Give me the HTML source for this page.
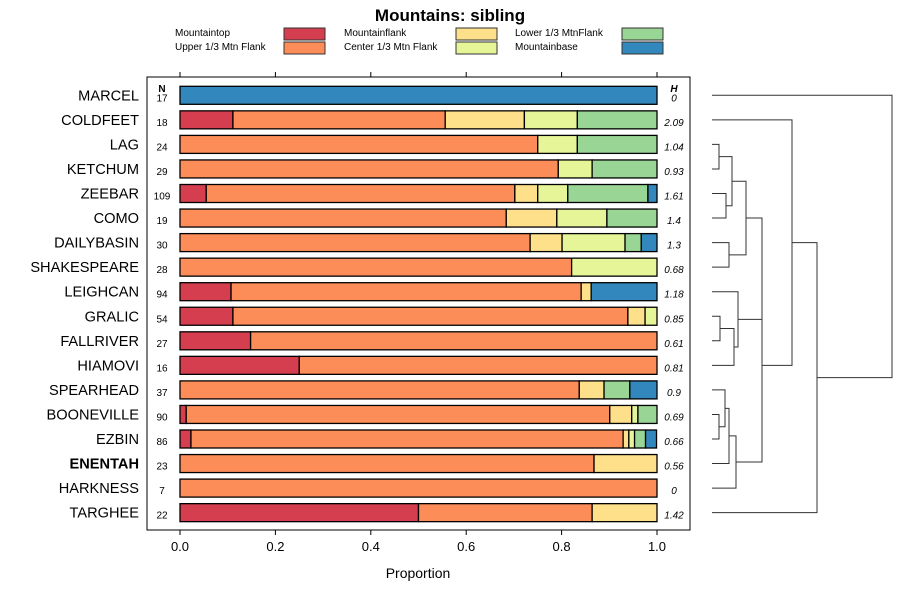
<!DOCTYPE html>
<html><head><meta charset="utf-8"><style>
body{margin:0;background:#fff;font-family:"Liberation Sans",sans-serif}
svg{display:block}
</style></head><body>
<svg id="chart" width="900" height="600" xmlns="http://www.w3.org/2000/svg">
<text x="450" y="21" text-anchor="middle" font-size="17" font-weight="bold">Mountains: sibling</text>
<g id="legend"></g>
<rect x="147" y="77" width="543" height="453" fill="none" stroke="#000" stroke-width="1"/>
<g id="bars"></g>
<g id="axis"></g>
<g id="dendro"></g>
<text x="418" y="578" text-anchor="middle" font-size="14">Proportion</text>
<text x="162" y="92" text-anchor="middle" font-size="10" font-weight="bold">N</text>
<text x="674" y="92" text-anchor="middle" font-size="10" font-weight="bold" font-style="italic">H</text>
</svg>
<script>
const categories=["MARCEL","COLDFEET","LAG","KETCHUM","ZEEBAR","COMO","DAILYBASIN","SHAKESPEARE","LEIGHCAN","GRALIC","FALLRIVER","HIAMOVI","SPEARHEAD","BOONEVILLE","EZBIN","ENENTAH","HARKNESS","TARGHEE"];
const seriesNames=["Mountaintop","Upper 1/3 Mtn Flank","Mountainflank","Center 1/3 Mtn Flank","Lower 1/3 MtnFlank","Mountainbase"];
const mountaintop=[0,.111,0,0,.055,0,0,0,.107,.111,.148,.25,0,.013,.023,0,0,.5];
const upperFlank=[0,.445,.75,.793,.647,.684,.734,.821,.734,.828,.852,.75,.837,.888,.906,.868,1,.364];
const mountainflank=[0,.166,0,0,.048,.106,.067,0,.021,.036,0,0,.052,.046,.012,.132,0,.136];
const centerFlank=[0,.111,.083,.071,.063,.105,.132,.179,0,.025,0,0,0,.013,.012,0,0,0];
const lowerFlank=[0,.167,.167,.136,.168,.105,.034,0,0,0,0,0,.054,.04,.023,0,0,0];
const mountainbase=[1,0,0,0,.019,0,.033,0,.138,0,0,0,.057,0,.023,0,0,0];
const nValues=[17,18,24,29,109,19,30,28,94,54,27,16,37,90,86,23,7,22];
const hValues=["0","2.09","1.04","0.93","1.61","1.4","1.3","0.68","1.18","0.85","0.61","0.81","0.9","0.69","0.66","0.56","0","1.42"];
const xTicks=[0,0.2,0.4,0.6,0.8,1.0];
const tickLabels=["0.0","0.2","0.4","0.6","0.8","1.0"];
const colors=["#D53E4F","#FC8D59","#FEE08B","#E6F598","#99D594","#3288BD"];
const NS="http://www.w3.org/2000/svg";
const xs=v=>180+v*477;
const ys=i=>95.3+i*24.55;
function mk(t,a,p){const e=document.createElementNS(NS,t);for(const k in a)e.setAttribute(k,a[k]);p.appendChild(e);return e;}
const series=[mountaintop,upperFlank,mountainflank,centerFlank,lowerFlank,mountainbase];
const bars=document.getElementById('bars');
categories.forEach((c,i)=>{
  const y=ys(i);
  const lab=mk('text',{x:139,y:y+5,'text-anchor':'end','font-size':14.6,'font-weight':c==="ENENTAH"?'bold':'normal'},bars);
  lab.textContent=c;
  
  
  let cum=0;
  series.forEach((s,k)=>{
    const v=s[i];if(v<=0)return;
    const r=mk('rect',{x:xs(cum),y:y-9,width:xs(cum+v)-xs(cum),height:18,fill:colors[k],stroke:'#000','stroke-width':1.3},bars);
    
    
    cum+=v;
  });
  const n=mk('text',{x:162,y:y+6,'text-anchor':'middle','font-size':10},bars);
  n.textContent=nValues[i];
  
  
  const h=mk('text',{x:674,y:y+6,'text-anchor':'middle','font-size':10,'font-style':'italic'},bars);
  h.textContent=hValues[i];
  
  
});
const ax=document.getElementById('axis');
xTicks.forEach((t,i)=>{
  const x=xs(t);
  mk('line',{x1:x,x2:x,y1:530,y2:535,stroke:'#000'},ax);
  mk('line',{x1:x,x2:x,y1:72,y2:77,stroke:'#000'},ax);
  const tl=mk('text',{x:x,y:551,'text-anchor':'middle','font-size':13},ax);
  tl.textContent=tickLabels[i];
  
  
});
const lg=document.getElementById('legend');
const lgPos=[[175,28,284],[175,42,284],[344,28,456],[344,42,456],[515,28,622],[515,42,622]];
[0,1,2,3,4,5].forEach(k=>{
  const p=lgPos[k];
  const t=mk('text',{x:p[0],y:p[1]+8,'font-size':10},lg);
  t.textContent=seriesNames[k];
  
  
  const r=mk('rect',{x:p[2],y:p[1],width:41,height:12,fill:colors[k],stroke:'#333'},lg);
  
  
});
const merges=[[2,3,719],[4,5,726],["n0","n1",732],[6,7,729],["n2","n3",746],[9,10,720],["n5",11,734],[8,"n6",738],[13,14,719],[12,"n8",725],["n9",15,729],["n10",16,736],["n4","n7",762],["n12","n11",762],[1,"n13",792],["n14",17,817],[0,"n15",892]];
const dg=document.getElementById('dendro');
const nodes=[];
function pos(c){if(typeof c==="number")return{x:712,y:ys(c)};return nodes[+c.slice(1)];}
merges.forEach(m=>{
  const a=pos(m[0]),b=pos(m[1]),x=m[2];
  const p=mk('path',{d:`M${a.x},${a.y}H${x}V${b.y}H${b.x}`,fill:'none',stroke:'#333','stroke-width':1},dg);
  
  
  nodes.push({x:x,y:(a.y+b.y)/2});
});
</script>
</body></html>
